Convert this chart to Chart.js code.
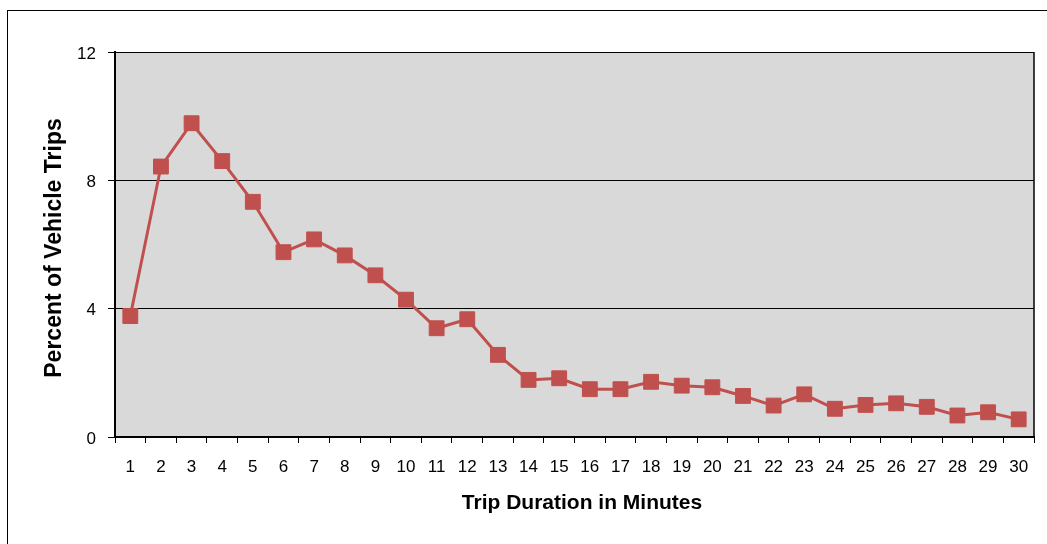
<!DOCTYPE html>
<html>
<head>
<meta charset="utf-8">
<script src="https://cdn.jsdelivr.net/npm/chart.js@4.4.1/dist/chart.umd.min.js"></script>
<style>
  html, body { margin: 0; padding: 0; background: #fff; overflow: hidden; }
  #wrap { position: relative; width: 1047px; height: 544px; overflow: hidden; }
  #frame { position: absolute; left: 7px; top: 10px; width: 1100px; height: 600px; border: 1px solid #000; }
  canvas { position: absolute; left: 0; top: 0; }
</style>
</head>
<body>
<div id="wrap">
  <div id="frame"></div>
  <canvas id="chart" width="1047" height="544"></canvas>
</div>
<script>
const minutes = ["1", "2", "3", "4", "5", "6", "7", "8", "9", "10",
  "11", "12", "13", "14", "15", "16", "17", "18", "19", "20",
  "21", "22", "23", "24", "25", "26", "27", "28", "29", "30"];
const tripPercent = [3.77, 8.43, 9.78, 8.6, 7.33, 5.76, 6.16, 5.66, 5.04, 4.28,
  3.39, 3.67, 2.56, 1.78, 1.83, 1.49, 1.49, 1.72, 1.6, 1.55,
  1.28, 0.98, 1.33, 0.88, 1.0, 1.05, 0.94, 0.67, 0.77, 0.55];
const yTicks = [0, 4, 8, 12];
const xTitle = "Trip Duration in Minutes";
const yTitle = "Percent of Vehicle Trips";

const FONT = "'Liberation Sans', Arial, sans-serif";

// grey plot background, right border and the two axis titles
const plotFrame = {
  id: "plotFrame",
  beforeDraw(chart) {
    const { ctx, chartArea: a } = chart;
    ctx.save();
    ctx.fillStyle = "#D9D9D9";
    ctx.fillRect(a.left, a.top, a.right - a.left, a.bottom - a.top);
    ctx.restore();
  },
  afterDraw(chart) {
    const { ctx, chartArea: a } = chart;
    ctx.save();
    ctx.strokeStyle = "#000";
    ctx.lineWidth = 1.5;
    ctx.beginPath();
    ctx.moveTo(a.right, a.top);
    ctx.lineTo(a.right, a.bottom);
    ctx.stroke();

    ctx.fillStyle = "#000";
    ctx.font = "bold 21px " + FONT;
    ctx.textAlign = "center";
    ctx.textBaseline = "alphabetic";
    ctx.fillText(xTitle, 582, 509);

    ctx.font = "bold 23px " + FONT;
    ctx.translate(55, 248);
    ctx.rotate(-Math.PI / 2);
    ctx.textBaseline = "middle";
    ctx.fillText(yTitle, 0, 0);
    ctx.restore();
  },
};

new Chart(document.getElementById("chart"), {
  type: "line",
  data: {
    labels: minutes,
    datasets: [
      {
        data: tripPercent,
        borderColor: "#C0504D",
        backgroundColor: "#C0504D",
        borderWidth: 3,
        pointStyle: "rect",
        pointRadius: 10.5,
        pointBorderWidth: 1,
        pointBackgroundColor: "#C0504D",
        pointBorderColor: "#C0504D",
        tension: 0,
      },
    ],
  },
  options: {
    responsive: false,
    animation: false,
    layout: { padding: { left: 0, top: 52, right: 13, bottom: 0 } },
    plugins: {
      legend: { display: false },
      tooltip: { enabled: false },
    },
    scales: {
      x: {
        offset: true,
        afterFit: (s) => { s.height = 107; },
        grid: {
          offset: true,
          drawOnChartArea: false,
          drawTicks: true,
          tickLength: 6,
          color: "#000",
          lineWidth: 1,
        },
        border: { color: "#000", width: 2 },
        ticks: {
          color: "#000",
          font: { family: FONT, size: 17 },
          padding: 14,
          autoSkip: false,
          maxRotation: 0,
        },
      },
      y: {
        min: 0,
        max: 12,
        afterFit: (s) => { s.width = 115; },
        afterBuildTicks: (s) => { s.ticks = yTicks.map((v) => ({ value: v })); },
        grid: {
          color: "#000",
          lineWidth: 1,
          tickLength: 7,
        },
        border: { color: "#000", width: 2 },
        ticks: {
          color: "#000",
          font: { family: FONT, size: 17 },
          padding: 12,
          labelOffset: 2,
        },
      },
    },
  },
  plugins: [plotFrame],
});
</script>
</body>
</html>
